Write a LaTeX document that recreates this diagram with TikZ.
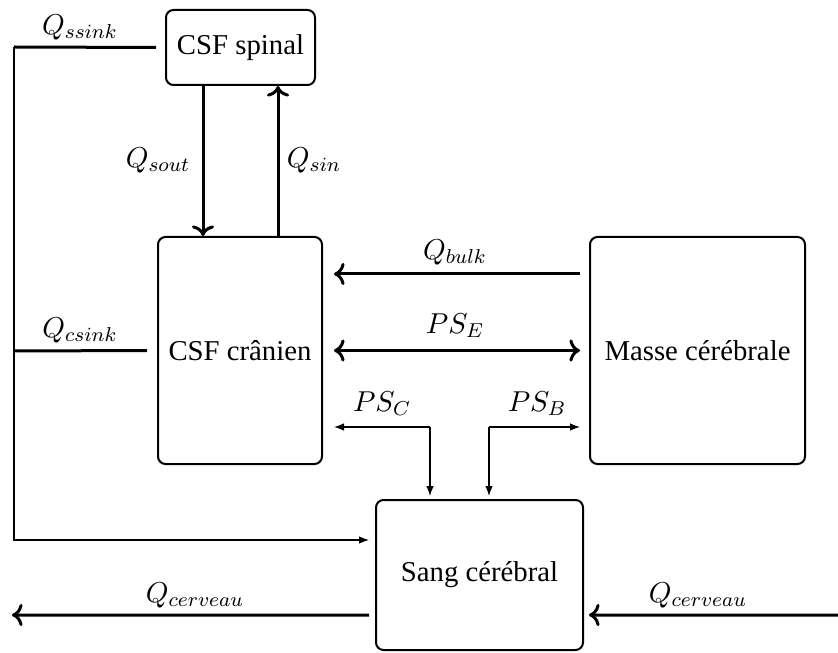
\RequirePackage{fix-cm}
\documentclass[tikz,border=0pt]{standalone}
\usepackage{fontspec}
\setmainfont{Liberation Serif}
\usetikzlibrary{arrows.meta}
\begin{document}
\fontsize{11.5}{14}\selectfont
\begin{tikzpicture}[x=0.4pt, y=-0.4pt,
  box/.style={draw, line width=0.8pt, rounded corners=3pt, align=center, inner sep=0pt},
  flow/.style={line width=1.2pt},
  fine/.style={line width=0.45pt, -{Latex[length=4pt, width=3pt]}},
  lbl/.style={inner sep=1pt}]
\useasboundingbox (0,0) rectangle (838,652);

% compartments
\node[box, minimum width=59.6pt, minimum height=30pt] (spinal) at (240.5,47.5) {CSF spinal};
\node[box, minimum width=65.6pt, minimum height=90.8pt] (cranien) at (240,350.5) {CSF crânien};
\node[box, minimum width=86pt, minimum height=90.8pt] (masse) at (697.5,350.5) {Masse cérébrale};
\node[box, minimum width=82.8pt, minimum height=60pt] (sang) at (479.5,575) {Sang cérébral};

% sink collector on the left
\coordinate (ssinkc) at (14,47);
\coordinate (csinkc) at (14,351);
\coordinate (bloodc) at (14,540);

\draw[flow] ([xshift=-3.6pt]spinal.west) -- (ssinkc);
\draw[flow] ([xshift=-4pt]cranien.west) -- (csinkc);
\draw[fine] (ssinkc) -- (bloodc) -- ([xshift=-2.4pt]bloodc -| sang.west);
\node[lbl] (lssink) at (80,27) {$Q_{ssink}$};
\node[lbl] (lcsink) at (80,330) {$Q_{csink}$};

% spinal <-> cranial exchange
\draw[flow,->] ([xshift=-15pt]spinal.south) -- ([xshift=-15pt]spinal.south |- cranien.north);
\draw[flow,->] ([xshift=15pt]spinal.south |- cranien.north) -- ([xshift=15pt]spinal.south);
\node[lbl] (lsout) at (158,160) {$Q_{sout}$};
\node[lbl] (lsin) at (314,160) {$Q_{sin}$};

% brain mass <-> cranial CSF
\draw[flow,->] ([xshift=-3.6pt,yshift=30.6pt]masse.west) -- ([xshift=4.4pt,yshift=30.6pt]cranien.east);
\draw[flow,<->] ([xshift=4.4pt]cranien.east) -- ([xshift=-3.6pt]masse.west);
\node[lbl] (lbulk) at (455,252) {$Q_{bulk}$};
\node[lbl] (lpse) at (455,326) {$PS_E$};

% permeability links to blood
\coordinate (pscj) at (430,427);
\coordinate (psbj) at (489,427);
\draw[fine] (pscj) -- ([xshift=4.4pt]pscj -| cranien.east);
\draw[fine] (pscj) -- ([yshift=1.2pt]pscj |- sang.north);
\draw[fine] (psbj) -- ([xshift=-3.6pt]psbj -| masse.west);
\draw[fine] (psbj) -- ([yshift=1.2pt]psbj |- sang.north);
\node[lbl] (lpsc) at (382,404) {$PS_C$};
\node[lbl] (lpsb) at (537,404) {$PS_B$};

% cerebral blood flow
\coordinate (outend) at (12,615);
\coordinate (instart) at (838,615);
\draw[flow,->] ([xshift=-2.4pt,yshift=-16pt]sang.west) -- (outend);
\draw[flow,->] (instart) -- ([xshift=2pt,yshift=-16pt]sang.east);
\node[lbl] (lcout) at (195,595) {$Q_{cerveau}$};
\node[lbl] (lcin) at (698,595) {$Q_{cerveau}$};
\end{tikzpicture}
\end{document}
